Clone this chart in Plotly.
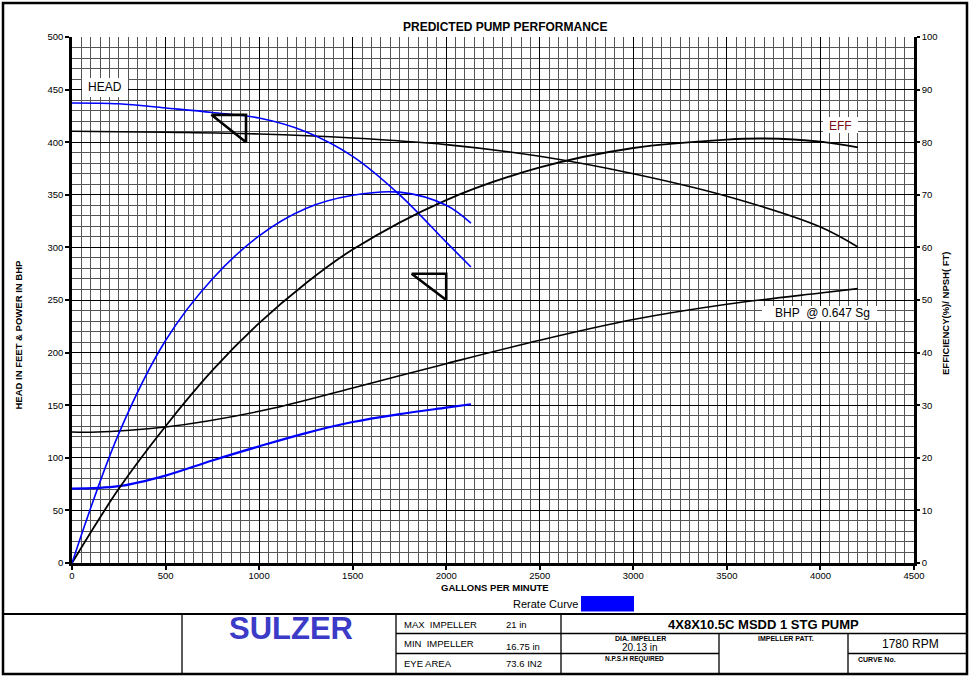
import plotly.graph_objects as go

# ---------------- data ----------------
# Original curve (black)
orig_head_gpm = [0, 500, 1000, 1500, 2000, 2500, 3000, 3500, 4000, 4200]
orig_head_ft = [410.4, 409.4, 407.8, 404.0, 397.7, 386.6, 370.0, 348.6, 319.4, 300.4]
orig_eff_gpm = [0, 250, 500, 750, 1000, 1250, 1500, 2000, 2500, 3000, 3500, 3700, 4000, 4200]
orig_eff_pct = [0, 14.1, 26.0, 36.6, 45.6, 53.2, 59.6, 69.0, 75.2, 78.9, 80.5, 80.7, 80.1, 79.0]
orig_bhp_gpm = [0, 100, 500, 1000, 1500, 2000, 2500, 3000, 3500, 4000, 4200]
orig_bhp = [124.5, 124.3, 129.3, 144.2, 166.4, 189.5, 211.7, 231.4, 245.9, 256.7, 260.8]

# Rerate curve (blue)
rr_head_gpm = [0, 250, 500, 750, 1000, 1250, 1500, 1750, 2000, 2132]
rr_head_ft = [437.3, 436.5, 432.5, 428.3, 423.0, 410.0, 386.6, 350.2, 305.0, 281.4]
rr_eff_gpm = [0, 250, 500, 750, 1000, 1250, 1500, 1750, 2000, 2132]
rr_eff_pct = [0, 24.6, 42.3, 54.0, 62.2, 67.4, 69.9, 70.5, 68.0, 64.6]
rr_bhp_gpm = [0, 250, 500, 750, 1000, 1250, 1500, 1750, 2000, 2132]
rr_bhp = [70.7, 73.0, 83.1, 97.5, 110.9, 123.5, 134.0, 141.5, 147.7, 150.9]

# Triangle markers
tri1_gpm = [745, 930, 930, 745]
tri1_ft = [426, 426, 400, 426]
tri2_gpm = [1815, 2000, 2000, 1815]
tri2_ft = [275, 275, 250, 275]

x_ticks = [0, 500, 1000, 1500, 2000, 2500, 3000, 3500, 4000, 4500]
y_ticks = [0, 50, 100, 150, 200, 250, 300, 350, 400, 450, 500]
y2_ticks = [0, 10, 20, 30, 40, 50, 60, 70, 80, 90, 100]

FONT = "Liberation Sans, Arial, sans-serif"
BLUE = "#0000ff"

# ---------------- layout helpers (pixel -> paper) ----------------
L, R, T, B = 72, 58, 37, 114
W, H = 972, 677
PW, PH = W - L - R, H - T - B


def PX(px):
    return (px - L) / PW


def PY(py):
    return (H - B - py) / PH


fig = go.Figure()


def curve(x, y, color, width, axis="y"):
    fig.add_trace(go.Scatter(x=x, y=y, mode="lines", yaxis=axis,
                             line=dict(color=color, width=width, shape="spline", smoothing=1.0),
                             hoverinfo="skip", showlegend=False))


curve(orig_head_gpm, orig_head_ft, "black", 1.6)
curve(orig_bhp_gpm, orig_bhp, "black", 1.6)
curve(orig_eff_gpm, orig_eff_pct, "black", 1.8, "y2")
curve(rr_head_gpm, rr_head_ft, BLUE, 1.6)
curve(rr_bhp_gpm, rr_bhp, BLUE, 2.2)
curve(rr_eff_gpm, rr_eff_pct, BLUE, 1.6, "y2")

for tx, ty in [(tri1_gpm, tri1_ft), (tri2_gpm, tri2_ft)]:
    fig.add_trace(go.Scatter(x=tx, y=ty, mode="lines",
                             line=dict(color="black", width=2.6),
                             hoverinfo="skip", showlegend=False))

shapes = []
annos = []


def line(x0, y0, x1, y1, w=1.5, c="black"):
    shapes.append(dict(type="line", xref="paper", yref="paper",
                       x0=PX(x0), y0=PY(y0), x1=PX(x1), y1=PY(y1),
                       line=dict(color=c, width=w)))


def rect(x0, y0, x1, y1, fill="white", lw=0, lc="white", layer="above"):
    shapes.append(dict(type="rect", xref="paper", yref="paper", layer=layer,
                       x0=PX(x0), y0=PY(y0), x1=PX(x1), y1=PY(y1),
                       fillcolor=fill, line=dict(color=lc, width=lw)))


def text(px, py, s, size=10, bold=False, color="black", anchor="left", angle=0):
    if bold:
        s = "<b>" + s + "</b>"
    annos.append(dict(xref="paper", yref="paper", x=PX(px), y=PY(py), text=s,
                      showarrow=False, xanchor=anchor, yanchor="middle",
                      textangle=angle, font=dict(family=FONT, size=size, color=color)))


# label boxes
rect(82, 78, 128, 97)
text(86, 87.5, "HEAD", 12)
rect(823, 117, 858, 133)
text(827, 126, "EFF", 12, color="#7a1010")
rect(762, 306, 877, 321)
text(773, 313, "BHP&nbsp;&nbsp;@ 0.647 Sg", 12)

# outer border
rect(3, 3, 967, 674, fill="rgba(0,0,0,0)", lw=2.5, lc="black")

# title and axis titles
text(505, 27, "PREDICTED PUMP PERFORMANCE", 12, bold=True, anchor="center")
text(495, 587, "GALLONS PER MINUTE", 9.5, bold=True, anchor="center")
text(17.5, 335, "HEAD IN FEET &amp; POWER IN BHP", 9.5, bold=True, anchor="center", angle=-90)
text(945, 313, "EFFICIENCY(%)/ NPSH( FT)", 9.5, bold=True, anchor="center", angle=-90)

# rerate legend
text(511, 604, "Rerate Curve", 11)
rect(581, 596, 634, 611.5, fill=BLUE, lw=0, lc=BLUE)

# bottom table
line(3, 614, 967, 614, 2)
line(182, 614, 182, 674, 1.3)
line(396, 614, 396, 674, 1.3)
line(561, 614, 561, 674, 1.3)
line(396, 633.5, 967, 633.5, 1.3)
line(396, 653.5, 719, 653.5, 1.3)
line(848, 653.5, 967, 653.5, 1.3)
line(719, 633.5, 719, 674, 1.3)
line(848, 633.5, 848, 674, 1.3)

text(291, 628.5, "SULZER", 31, bold=True, color="#3b3bc8", anchor="center")
text(402, 624, "MAX&nbsp;&nbsp;IMPELLER", 9.5)
text(504, 624, "21 in", 9.5)
text(402, 643.5, "MIN&nbsp;&nbsp;IMPELLER", 9.5)
text(504, 646.5, "16.75 in", 9.5)
text(402, 663.5, "EYE AREA", 9.5)
text(504, 663.5, "73.6 IN2", 9.5)
text(763, 624, "4X8X10.5C MSDD 1 STG PUMP", 13, bold=True, anchor="center")
text(640, 638.5, "DIA. IMPELLER", 7, bold=True, anchor="center")
text(640, 647.5, "20.13 in", 10, anchor="center")
text(634, 659, "N.P.S.H REQUIRED", 6.5, bold=True, anchor="center")
text(786, 638.5, "IMPELLER PATT.", 7, bold=True, anchor="center")
text(910, 644, "1780 RPM", 12, anchor="center")
text(856, 659, "CURVE No.", 7, bold=True)

axis_common = dict(showline=True, linecolor="black", linewidth=2.5,
                   ticks="outside", tickcolor="black", tickwidth=2,
                   zeroline=False, fixedrange=True,
                   tickfont=dict(family=FONT, size=9.5, color="black"))

fig.update_layout(
    width=W, height=H, autosize=False,
    margin=dict(l=L, r=R, t=T, b=B, pad=0),
    paper_bgcolor="white", plot_bgcolor="white",
    showlegend=False,
    xaxis=dict(range=[0, 4500], tickmode="array", tickvals=x_ticks, ticklen=4,
               ticklabelstandoff=-2,
               showgrid=True, gridcolor="black", gridwidth=1.4,
               minor=dict(dtick=50, tick0=0, showgrid=True, gridcolor="#555555", gridwidth=1, ticks=""),
               **axis_common),
    yaxis=dict(range=[0, 500], tickmode="array", tickvals=y_ticks, ticklen=4,
               showgrid=True, gridcolor="black", gridwidth=1.4,
               minor=dict(dtick=10, tick0=0, showgrid=True, gridcolor="#555555", gridwidth=1, ticks=""),
               **axis_common),
    yaxis2=dict(range=[0, 100], tickmode="array", tickvals=y2_ticks, ticklen=3,
                overlaying="y", side="right", anchor="x", showgrid=False,
                **axis_common),
    shapes=shapes,
    annotations=annos,
)

fig.write_html("out.html", config={"displayModeBar": False},
               post_script="document.body.style.margin='0px';document.body.style.padding='0px';")
